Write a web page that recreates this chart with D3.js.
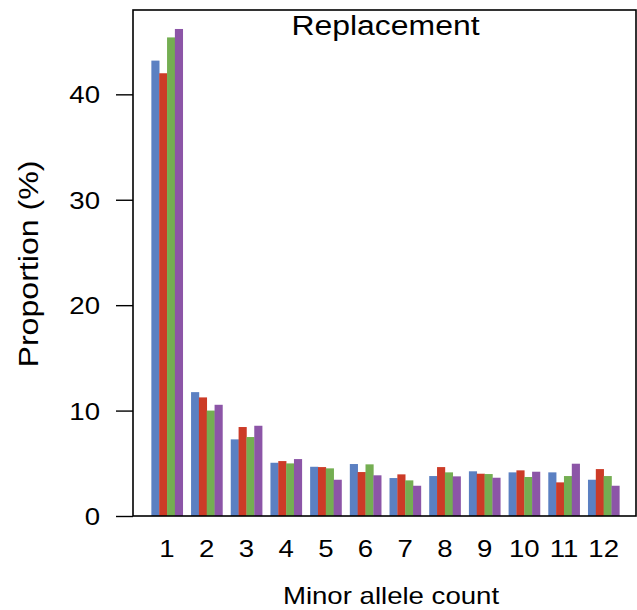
<!DOCTYPE html>
<html>
<head>
<meta charset="utf-8">
<script src="https://cdn.jsdelivr.net/npm/d3@7"></script>
<style>
  body { margin: 0; background: #fff; }
  text { font-family: "Liberation Sans", Arial, sans-serif; fill: #000; }
</style>
</head>
<body>
<svg id="chart" width="637" height="610"></svg>
<script>
// minor allele count categories
const counts = [1, 2, 3, 4, 5, 6, 7, 8, 9, 10, 11, 12];
const seriesNames = ["s1", "s2", "s3", "s4"];
const colors = ["#5b80c2", "#cc3b27", "#74ae52", "#8c55a7"];

// proportion (%) per series
const s1 = [43.2, 11.75, 7.27, 5.05, 4.67, 4.93, 3.60, 3.79, 4.24, 4.14, 4.14, 3.44];
const s2 = [42.0, 11.25, 8.44, 5.21, 4.64, 4.17, 3.95, 4.64, 4.01, 4.33, 3.19, 4.45];
const s3 = [45.4, 10.0, 7.49, 4.99, 4.52, 4.90, 3.38, 4.14, 3.98, 3.70, 3.79, 3.79];
const s4 = [46.2, 10.55, 8.56, 5.40, 3.44, 3.86, 2.87, 3.76, 3.63, 4.20, 4.96, 2.87];
const yTicks = [0, 10, 20, 30, 40];

const svgEl = d3.select("#chart");

const boxL = 133, boxR = 636, boxT = 10, boxB = 516;

const scx = d3.scaleBand(counts, [147.2, 623.5]).paddingInner(0.21).paddingOuter(0.105);
const scxi = d3.scaleBand(seriesNames, [0, scx.bandwidth()]);
const scy = d3.scaleLinear([0, 48], [boxB, boxT]);

const datos = counts.map((c, i) => ({
    c: c,
    vals: [s1[i], s2[i], s3[i], s4[i]].map((v, j) => ({k: seriesNames[j], v: v, col: colors[j]}))
}));

svgEl.append("g")
    .selectAll("g")
    .data(datos)
    .join("g")
    .attr("transform", d => "translate(" + scx(d.c) + ",0)")
    .selectAll("rect")
    .data(d => d.vals)
    .join("rect")
    .attr("x", d => scxi(d.k))
    .attr("width", scxi.bandwidth() + 0.3)
    .attr("y", d => scy(d.v))
    .attr("height", d => scy(0) - scy(d.v))
    .attr("fill", d => d.col);

// box
svgEl.append("rect")
    .attr("x", boxL).attr("y", boxT)
    .attr("width", boxR - boxL).attr("height", boxB - boxT)
    .attr("fill", "none").attr("stroke", "#000").attr("stroke-width", 1.6);

// y axis
let yax = svgEl.append("g")
    .attr("transform", "translate(" + boxL + ",0)")
    .call(d3.axisLeft(scy).tickValues(yTicks).tickSize(17).tickPadding(0).tickFormat(d3.format("d")));
yax.select(".domain").remove();
yax.selectAll(".tick line").attr("stroke", "#000").attr("stroke-width", 1.4);
yax.selectAll(".tick text").remove();
yax.selectAll(".tick").append("text")
    .attr("transform", "translate(-33,8.5) scale(1.15,1)")
    .attr("text-anchor", "end")
    .style("font-size", "24px")
    .text(d => d);

// x labels (no tick marks)
svgEl.append("g")
    .selectAll("text")
    .data(counts)
    .join("text")
    .attr("transform", d => "translate(" + (scx(d) + scx.bandwidth() / 2) + ",557) scale(1.2,1)")
    .attr("text-anchor", "middle")
    .style("font-size", "23px")
    .text(d => d);

// title
svgEl.append("text")
    .attr("transform", "translate(385.5,35) scale(1.14,1)")
    .attr("text-anchor", "middle")
    .style("font-size", "28px")
    .text("Replacement");

// axis titles
svgEl.append("text")
    .attr("transform", "translate(391,604) scale(1.2,1)")
    .attr("text-anchor", "middle")
    .style("font-size", "23px")
    .text("Minor allele count");

svgEl.append("text")
    .attr("transform", "translate(38,264) rotate(-90) scale(1.19,1)")
    .attr("text-anchor", "middle")
    .style("font-size", "27px")
    .text("Proportion (%)");
</script>
</body>
</html>
